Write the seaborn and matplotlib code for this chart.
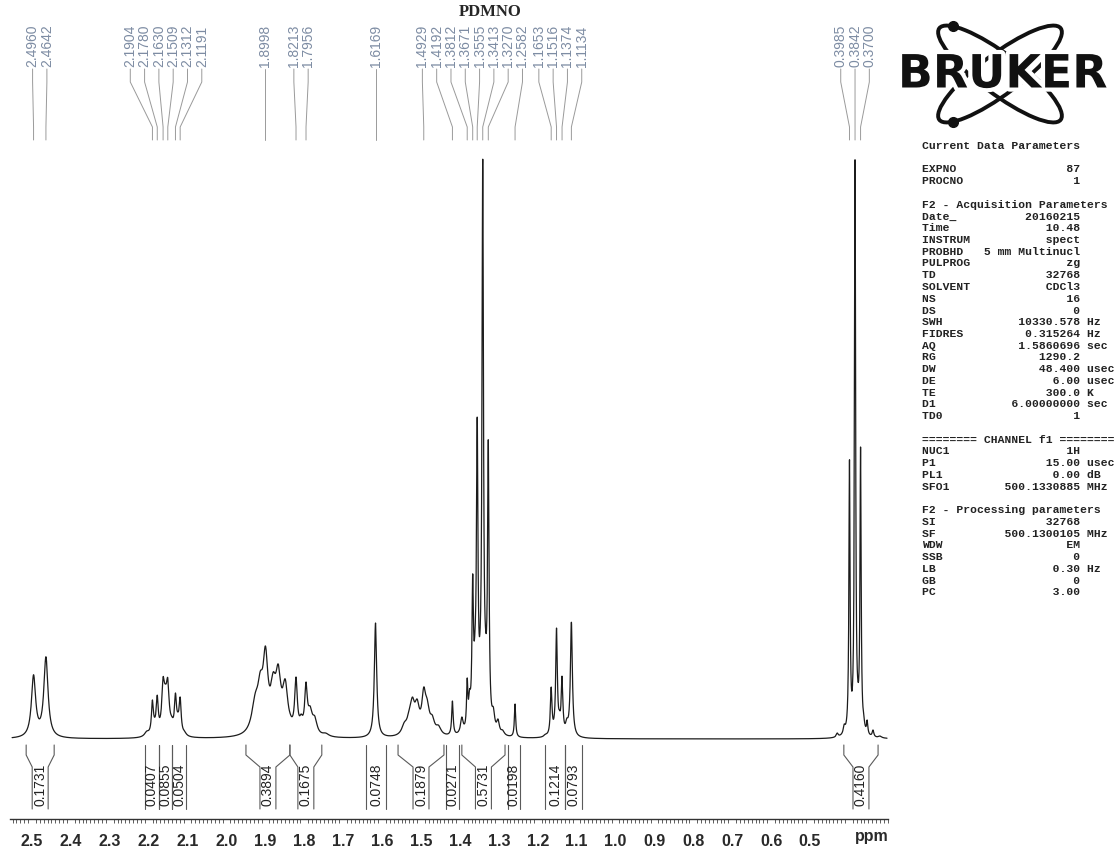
import numpy as np
import matplotlib
matplotlib.use("Agg")
import matplotlib.pyplot as plt
import matplotlib.patheffects as pe
from matplotlib.patches import Ellipse
import seaborn as sns

# --- Pics pointés (ppm), hauteur lue au-dessus de la ligne de base, largeur (ppm) ---
peak_ppm = [2.4960, 2.4642, 2.1904, 2.1780, 2.1630, 2.1509, 2.1312, 2.1191,
            1.8998, 1.8213, 1.7956, 1.6169, 1.4929, 1.4192, 1.3812, 1.3671,
            1.3555, 1.3413, 1.3270, 1.2582, 1.1653, 1.1516, 1.1374, 1.1134,
            0.3985, 0.3842, 0.3700]
peak_height = [65, 83, 39, 44, 62, 61, 46, 42,
               93, 62, 57, 116, 52, 38, 61, 165,
               323, 580, 300, 35, 52, 111, 63, 117,
               281, 580, 294]
peak_width = [0.013, 0.013, 0.006, 0.006, 0.008, 0.008, 0.006, 0.006,
              0.015, 0.008, 0.008, 0.0072, 0.012, 0.0045, 0.004, 0.0045,
              0.0045, 0.0045, 0.0045, 0.004, 0.005, 0.005, 0.005, 0.006,
              0.0035, 0.0035, 0.0035]

# --- épaulements / creux non pointés ---
shoulder_ppm = [2.480, 2.205, 2.184, 2.170, 2.157, 2.141, 2.125, 2.108,
                1.947, 1.926, 1.913, 1.880, 1.867, 1.849, 1.836, 1.808, 1.785, 1.773, 1.745,
                1.561, 1.543, 1.530, 1.522, 1.510, 1.484, 1.471, 1.455, 1.440,
                1.395, 1.375, 1.361, 1.348, 1.334, 1.314, 1.302, 1.290,
                1.180, 1.158, 1.144, 1.125, 1.100,
                0.430, 0.412, 0.391, 0.377, 0.362, 0.353, 0.338, 0.320]
shoulder_height = [15, 8, 22, 22, 55, 23, 27, 8,
                   8, 47, 68, 67, 75, 60, 25, 25, 33, 23, 6,
                   4, 17, 30, 42, 40, 40, 24, 14, 5,
                   22, 50, 110, 110, 110, 32, 20, 9,
                   5, 22, 29, 21, 6,
                   6, 15, 49, 59, 25, 19, 9, 3]
shoulder_width = [0.010, 0.014, 0.012, 0.012, 0.012, 0.012, 0.010, 0.012,
                  0.020, 0.022, 0.016, 0.016, 0.016, 0.016, 0.010, 0.010, 0.014, 0.014, 0.020,
                  0.020, 0.016, 0.016, 0.014, 0.014, 0.014, 0.014, 0.016, 0.014,
                  0.008, 0.006, 0.008, 0.008, 0.008, 0.008, 0.008, 0.010,
                  0.010, 0.006, 0.006, 0.008, 0.010,
                  0.006, 0.006, 0.006, 0.006, 0.006, 0.004, 0.005, 0.010]

# --- intégrales ---
integral_start = [2.515, 2.210, 2.174, 2.140, 1.950, 1.837, 1.641, 1.559, 1.436,
                  1.395, 1.276, 1.181, 1.130, 0.413]
integral_end = [2.443, 2.174, 2.140, 2.104, 1.837, 1.755, 1.590, 1.441, 1.402,
                1.284, 1.246, 1.130, 1.086, 0.325]
integral_label = ["0.1731", "0.0407", "0.0855", "0.0504", "0.3894", "0.1675", "0.0748",
                  "0.1879", "0.0271", "0.5731", "0.0198", "0.1214", "0.0793", "0.4160"]

tick_values = [2.5, 2.4, 2.3, 2.2, 2.1, 2.0, 1.9, 1.8, 1.7, 1.6, 1.5, 1.4, 1.3,
               1.2, 1.1, 1.0, 0.9, 0.8, 0.7, 0.6, 0.5, 0.4]

params = [
    ("Current Data Parameters", None, ""),
    ("", None, ""),
    ("EXPNO", "87", ""), ("PROCNO", "1", ""),
    ("", None, ""),
    ("F2 - Acquisition Parameters", None, ""),
    ("Date_", "20160215", ""), ("Time", "10.48", ""), ("INSTRUM", "spect", ""),
    ("PROBHD", "5 mm Multinucl", ""), ("PULPROG", "zg", ""), ("TD", "32768", ""),
    ("SOLVENT", "CDCl3", ""), ("NS", "16", ""), ("DS", "0", ""),
    ("SWH", "10330.578", "Hz"), ("FIDRES", "0.315264", "Hz"), ("AQ", "1.5860696", "sec"),
    ("RG", "1290.2", ""), ("DW", "48.400", "usec"), ("DE", "6.00", "usec"),
    ("TE", "300.0", "K"), ("D1", "6.00000000", "sec"), ("TD0", "1", ""),
    ("", None, ""),
    ("======== CHANNEL f1 ========", None, ""),
    ("NUC1", "1H", ""), ("P1", "15.00", "usec"), ("PL1", "0.00", "dB"),
    ("SFO1", "500.1330885", "MHz"),
    ("", None, ""),
    ("F2 - Processing parameters", None, ""),
    ("SI", "32768", ""), ("SF", "500.1300105", "MHz"), ("WDW", "EM", ""),
    ("SSB", "0", ""), ("LB", "0.30", "Hz"), ("GB", "0", ""), ("PC", "3.00", ""),
]

sns.set_style("white")
plt.rcParams["font.family"] = ["Liberation Sans", "DejaVu Sans"]

W, H = 1118, 853
fig = plt.figure(figsize=(W / 100, H / 100), dpi=100)

# échelle : 2.5 ppm à x=32 px, 389 px par ppm
PX0, PX_PER_PPM = 32, 389.0


def px_to_ppm(px):
    return 2.5 - (px - PX0) / PX_PER_PPM


def ppm_to_px(p):
    return PX0 + (2.5 - p) * PX_PER_PPM


def yd(px):
    # position verticale en pixels image -> coordonnée données
    return 740 - px


ax = fig.add_axes([10 / W, 33 / H, 878 / W, 820 / H])

# --- spectre : somme de lorentziennes ajustée aux hauteurs lues ---
def lorentz(x, x0, w):
    return 1.0 / (1.0 + ((x - x0) / (w / 2)) ** 2)


comp_ppm = np.array(peak_ppm + shoulder_ppm)
comp_h = np.array(peak_height + shoulder_height, dtype=float)
comp_w = np.array(peak_width + shoulder_width)
A = lorentz(comp_ppm[:, None], comp_ppm[None, :], comp_w[None, :])
active = np.ones(len(comp_ppm), dtype=bool)
amp = np.zeros(len(comp_ppm))
for _ in range(30):
    sol = np.linalg.lstsq(A[:, active], comp_h, rcond=None)[0]
    amp[:] = 0
    amp[active] = sol
    if (sol >= 0).all():
        break
    idx = np.where(active)[0]
    active[idx[np.argmin(sol)]] = False

grid = np.arange(px_to_ppm(887), px_to_ppm(12), 0.0003)
spec = lorentz(grid[:, None], comp_ppm[None, :], comp_w[None, :]) @ amp
sns.lineplot(x=grid, y=spec, ax=ax, color="#1c1c1c", lw=0.9,
             estimator=None, sort=False)

# --- étiquettes des pics (étalées comme sur TopSpin) ---
def spread(xs, d):
    clusters = [[x] for x in xs]
    merged = True
    while merged:
        merged = False
        out = [clusters[0]]
        for c in clusters[1:]:
            prev = out[-1]
            right = np.mean(prev) + (len(prev) - 1) / 2 * d
            left = np.mean(c) - (len(c) - 1) / 2 * d
            if left - right < d:
                out[-1] = prev + c
                merged = True
            else:
                out.append(c)
        clusters = out
    pos = []
    for c in clusters:
        m, n = np.mean(c), len(c)
        pos += [m + (k - (n - 1) / 2) * d for k in range(n)]
    return pos


peak_px = [ppm_to_px(p) for p in peak_ppm]
label_px = spread(peak_px, 14.3)
lab_col = "#7d8ca3"
for p, xp, xl in zip(peak_ppm, peak_px, label_px):
    xl_ppm = px_to_ppm(xl)
    ax.plot([xl_ppm, xl_ppm, p, p], [yd(70), yd(83), yd(128), yd(141)],
            color="#9a9a9a", lw=0.7)
    ax.text(xl_ppm, yd(67), f"{p:.4f}", rotation=90, ha="center", va="bottom",
            fontsize=10, color=lab_col)

# --- intégrales ---
for s, e, lab in zip(integral_start, integral_end, integral_label):
    c = (s + e) / 2
    if s - e <= 0.054:
        bl, br = s, e
    else:
        bl, br = c + 0.0205, c - 0.0205
    kw = dict(color="#5a5a5a", lw=0.8)
    ax.plot([s, s, bl, bl], [yd(746), yd(756), yd(768), yd(810)], **kw)
    ax.plot([e, e, br, br], [yd(746), yd(756), yd(768), yd(810)], **kw)
    ax.text(c, yd(806), lab, rotation=90, ha="center", va="bottom",
            fontsize=10, color="#222222")

# --- axe ---
ax.set_xlim(px_to_ppm(10), px_to_ppm(888))
ax.set_ylim(-80, 740)
ax.set_xticks(tick_values)
ax.set_xticklabels([f"{t:.1f}" if t > 0.45 else "" for t in tick_values],
                   fontweight="bold")
ax.set_xticks(np.round(np.arange(0.30, 2.555, 0.01), 2), minor=True)
ax.tick_params(axis="x", which="major", length=6, width=1.0, labelsize=11.5,
               pad=4, color="#333333", labelcolor="#2a2a2a")
ax.tick_params(axis="x", which="minor", length=3, width=0.6, color="#444444",
               bottom=True)
ax.set_yticks([])
for side in ["left", "top", "right"]:
    ax.spines[side].set_visible(False)
ax.spines["bottom"].set_color("#333333")
ax.spines["bottom"].set_linewidth(1.0)
ax.text(px_to_ppm(872), yd(837), "ppm", ha="center", va="center",
        fontsize=11.5, fontweight="bold", color="#2a2a2a")

# --- titre ---
fig.text(490 / W, 1 - 12 / H, "PDMNO", ha="center", va="center",
         fontsize=12, fontweight="bold", family=["Liberation Serif", "DejaVu Serif"])

# --- logo Bruker ---
lax = fig.add_axes([880 / W, 1 - 135 / H, 238 / W, 120 / H])
lax.set_xlim(880, 1118)
lax.set_ylim(135, 15)
lax.axis("off")
cx, cy, a, b, th = 1000, 75, 76, 20, 37
for sgn in (1, -1):
    lax.add_patch(Ellipse((cx, cy), 2 * a, 2 * b, angle=sgn * th, fill=False,
                          lw=2.8, color="#111111"))
for sgn, t in ((1, np.pi + 0.5), (-1, np.pi - 0.5)):
    ang = np.deg2rad(sgn * th)
    u = np.array([np.cos(ang), np.sin(ang)])
    v = np.array([-np.sin(ang), np.cos(ang)])
    pt = np.array([cx, cy]) + a * np.cos(t) * u + b * np.sin(t) * v
    lax.plot(pt[0], pt[1], "o", ms=7, color="#111111")
lax.text(cx + 3, cy + 1, "BRUKER", ha="center", va="center", fontsize=33,
         fontweight="bold", color="#111111", family=["DejaVu Sans"],
         path_effects=[pe.withStroke(linewidth=6, foreground="white")])

# --- paramètres d'acquisition ---
mono = ["Liberation Mono", "DejaVu Sans Mono"]
y0, pitch = 146, 11.75
for i, (name, val, unit) in enumerate(params):
    if val is None:
        line = name
    else:
        line = f"{name:<8}{val:>15}" + (f" {unit}" if unit else "")
    fig.text(922 / W, 1 - (y0 + i * pitch) / H, line, ha="left", va="center",
             fontsize=8.2, family=mono, fontweight="bold", color="#222222")

fig.savefig("out.png", dpi=100)
